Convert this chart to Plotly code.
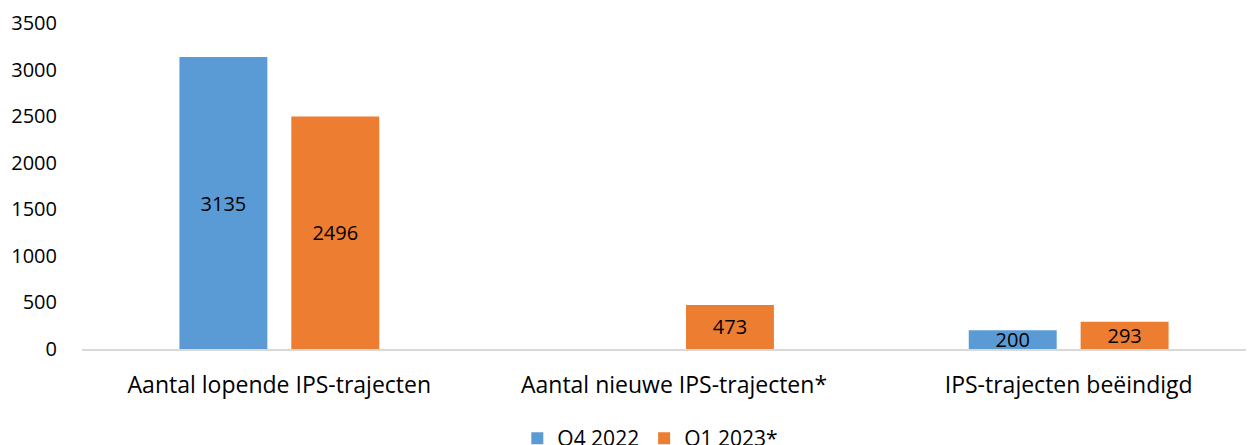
import plotly.graph_objects as go

categories = ["Aantal lopende IPS-trajecten", "Aantal nieuwe IPS-trajecten*", "IPS-trajecten beëindigd"]
q4_2022 = [3135, None, 200]
q1_2023 = [2496, 473, 293]
y_ticks = [0, 500, 1000, 1500, 2000, 2500, 3000, 3500]

FONT = "Open Sans, Liberation Sans, sans-serif"

fig = go.Figure()
for name, vals, color in [
    ("Q4 2022", q4_2022, "#5B9BD5"),
    ("Q1 2023*", q1_2023, "#ED7D31"),
]:
    fig.add_trace(go.Bar(
        name=name,
        x=categories,
        y=vals,
        marker_color=color,
        marker_line_width=0,
        text=[str(v) if v is not None else "" for v in vals],
        textposition="inside",
        insidetextanchor="middle",
        constraintext="none",
        textfont=dict(color="#000000", size=20, family=FONT),
    ))

# page body has an 8px margin, so the plot area is shifted back by that much;
# the original plot area runs a little past the right edge of the picture
fig.update_layout(
    barmode="group",
    bargap=0.433,
    bargroupgap=0.214,
    width=1262,
    height=445,
    margin=dict(l=73.5, r=3.5, t=15, b=104, autoexpand=False),
    paper_bgcolor="white",
    plot_bgcolor="white",
    font=dict(family=FONT, color="#000000"),
    legend=dict(
        orientation="h", x=0.48, xanchor="center", y=-0.212, yanchor="top",
        font=dict(size=21), traceorder="normal",
    ),
)
fig.update_yaxes(
    range=[0, 3500], tickvals=y_ticks, showgrid=False, zeroline=False,
    showline=False, ticklabelstandoff=24, tickfont=dict(size=20),
    automargin=False,
)
fig.update_xaxes(
    showline=True, linecolor="#D9D9D9", linewidth=1.5, ticks="",
    tickfont=dict(size=23), ticklabelstandoff=15, automargin=False,
)

fig.write_html("out.html")
